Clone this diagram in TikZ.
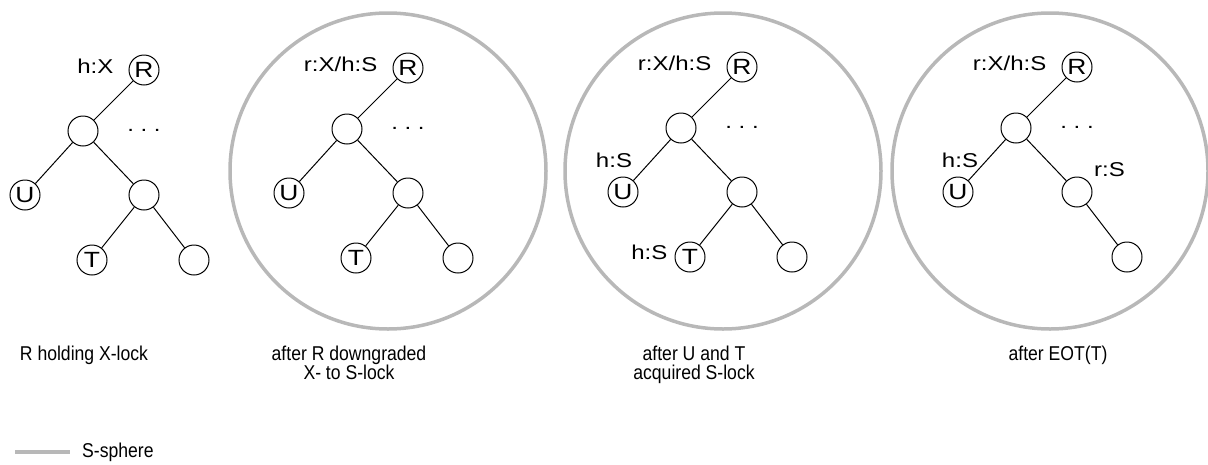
\documentclass[tikz,border=0pt]{standalone}
\usepackage{fontspec}
\setmainfont{Liberation Sans}
\newfontfamily\widesans[FakeStretch=1.2]{Liberation Sans}
\newfontfamily\narrowsans[FakeStretch=0.88]{Liberation Sans}
\usetikzlibrary{positioning}
\definecolor{spheregray}{rgb}{0.72,0.72,0.72}

\begin{document}
\begin{tikzpicture}[x=1pt, y=-1pt,
    every node/.style={font=\widesans\fontsize{20}{22}\selectfont},
    tnode/.style={circle, draw, line width=1pt, minimum size=30pt, inner sep=0pt,
      font=\widesans\fontsize{22}{22}\selectfont},
    lock/.style={inner sep=1pt},
    caption/.style={font=\narrowsans\fontsize{20}{19}\selectfont, align=center, inner sep=0pt, anchor=north},
    sphere/.style={draw=spheregray, line width=3.5pt}]
  \useasboundingbox (0,0) rectangle (1208,464);

  % S-spheres
  \draw[sphere] (388,171) circle (158);
  \draw[sphere] (723,171) circle (158);
  \draw[sphere] (1050,171) circle (158);

  % the four trees
  \foreach \i/\x/\y/\rlock in {1/144/70/{h:X}, 2/408/68/{r:X/h:S},
                               3/742/67/{r:X/h:S}, 4/1077/67/{r:X/h:S}} {
    \begin{scope}[shift={(\x,\y)}]
      \node[tnode] (r\i) at (0,0) {R};
      \node[tnode] (a\i) at (-61,61) {};
      \node[tnode] (u\i) at (-119,125) {U};
      \node[tnode] (b\i) at (0,125) {};
      \node[tnode] (c\i) at (50,190) {};
      \node[anchor=base, inner sep=0pt] (dots\i) at (0,61) {.\ .\ .};
    \end{scope}
    \node[lock, left=14pt of r\i, yshift=4pt] (rl\i) {\rlock};
    \draw[line width=1pt] (r\i) -- (a\i) (a\i) -- (u\i) (a\i) -- (b\i) (b\i) -- (c\i);
  }
  \foreach \i in {1,2,3} {
    \path (b\i) ++(-52,65) node[tnode] (t\i) {T};
    \draw[line width=1pt] (b\i) -- (t\i);
  }

  % further locks
  \node[lock, above=8pt of u3, xshift=-9pt] (ul3) {h:S};
  \node[lock, left=6pt of t3, yshift=5pt] (tl3) {h:S};
  \node[lock, above=8pt of u4, xshift=2pt] (ul4) {h:S};
  \node[lock, above right=3pt and 5pt of b4] (bl4) {r:S};

  % captions
  \node[caption] (cap1) at (84,346) {R holding X-lock};
  \node[caption] (cap2) at (349,346) {after R downgraded\\X- to S-lock};
  \node[caption] (cap3) at (694,346) {after U and T\\acquired S-lock};
  \node[caption] (cap4) at (1058,346) {after EOT(T)};

  % legend
  \coordinate (lg1) at (15,452);
  \coordinate (lg2) at (70,452);
  \draw[sphere] (lg1) -- (lg2);
  \node[caption, anchor=west] (lgtext) at (82,452) {S-sphere};
\end{tikzpicture}
\end{document}
